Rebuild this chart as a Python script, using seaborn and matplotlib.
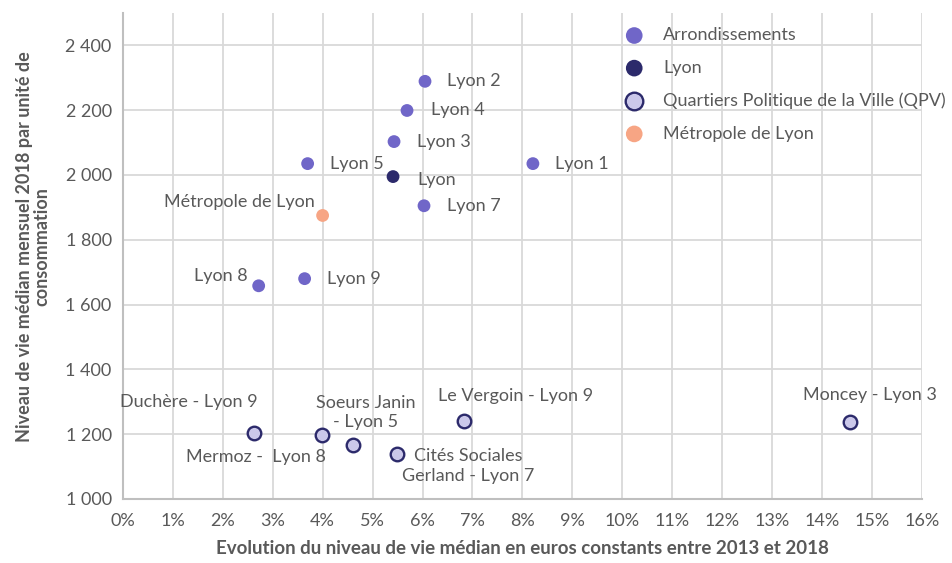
import pandas as pd
import seaborn as sns
import matplotlib.pyplot as plt
from matplotlib.ticker import FuncFormatter, MultipleLocator

# --- DATA ---
names = ["Lyon 1", "Lyon 2", "Lyon 3", "Lyon 4", "Lyon 5", "Lyon 7", "Lyon 8", "Lyon 9",
         "Lyon", "Métropole de Lyon",
         "Duchère - Lyon 9", "Mermoz -  Lyon 8", "Soeurs Janin\n- Lyon 5",
         "Cités Sociales\nGerland - Lyon 7", "Le Vergoin - Lyon 9", "Moncey - Lyon 3"]
evolution = [8.21, 6.05, 5.43, 5.69, 3.70, 6.03, 2.72, 3.64,
             5.41, 4.00,
             2.62, 3.98, 4.60, 5.49, 6.83, 14.56]
niveau = [2035, 2289, 2103, 2199, 2035, 1905, 1658, 1680,
          1995, 1875,
          1204, 1198, 1167, 1139, 1241, 1238]
groups = ["Arrondissements"] * 8 + ["Lyon", "Métropole de Lyon"] + \
         ["Quartiers Politique de la Ville (QPV)"] * 6

df = pd.DataFrame({"name": names, "evol": evolution, "niveau": niveau, "group": groups})

# --- STYLE ---
sns.set_theme(style="white")
plt.rcParams['font.family'] = ['Lato', 'DejaVu Sans']
grey = "#595959"
fs = 13

colors = {
    "Arrondissements": ("#7066C8", "none", 0),
    "Lyon": ("#2C2A6B", "none", 0),
    "Quartiers Politique de la Ville (QPV)": ("#CBC8EA", "#2C2A6B", 1.7),
    "Métropole de Lyon": ("#F7A584", "none", 0),
}
legend_order = ["Arrondissements", "Lyon", "Quartiers Politique de la Ville (QPV)", "Métropole de Lyon"]

fig = plt.figure(figsize=(9.52, 5.63), dpi=100)
ax = fig.add_axes([0.129, 0.1137, 0.8395, 0.8633])

for g in legend_order:
    face, edge, lw = colors[g]
    sub = df[df["group"] == g]
    sns.scatterplot(data=sub, x="evol", y="niveau", ax=ax, color=face,
                    edgecolor=edge, linewidth=lw, s=85 if lw == 0 else 95,
                    label=g, zorder=3)

# label offsets in pixels (dx, dy, ha)
offsets = {
    "Lyon 1": (22, 0, "left"), "Lyon 2": (22, 0, "left"), "Lyon 3": (23, 0, "left"),
    "Lyon 4": (24, 0, "left"), "Lyon 5": (22, 0, "left"), "Lyon 7": (23, 0, "left"),
    "Lyon 8": (-11, 10, "right"), "Lyon 9": (22, 0, "left"),
    "Lyon": (24, -3, "left"), "Métropole de Lyon": (-8, 13, "right"),
    "Duchère - Lyon 9": (-65, 31, "center"), "Mermoz -  Lyon 8": (-66, -22, "center"),
    "Soeurs Janin\n- Lyon 5": (13, 32, "center"),
    "Cités Sociales\nGerland - Lyon 7": (71, -12, "center"),
    "Le Vergoin - Lyon 9": (52, 25, "center"), "Moncey - Lyon 3": (20, 27, "center"),
}
for _, r in df.iterrows():
    dx, dy, ha = offsets[r["name"]]
    ax.annotate(r["name"], (r["evol"], r["niveau"]), xytext=(dx, dy),
                textcoords="offset pixels", ha=ha, va="center", fontsize=fs,
                color=grey, linespacing=1.25, zorder=4)

# --- AXES ---
ax.set_xlim(0, 16)
ax.set_ylim(1000, 2500)
ax.xaxis.set_major_locator(MultipleLocator(1))
ax.set_yticks(range(1000, 2401, 200))
ax.xaxis.set_major_formatter(FuncFormatter(lambda v, p: f"{int(round(v))}%"))
ax.yaxis.set_major_formatter(FuncFormatter(lambda v, p: f"{int(v):,}".replace(",", " ")))
ax.tick_params(axis="both", length=0, labelsize=fs, colors=grey)
ax.tick_params(axis="x", pad=10)
ax.tick_params(axis="y", pad=8)
ax.grid(True, color="#D9D9D9", linewidth=1.3, zorder=0)
ax.set_axisbelow(True)
for side in ["top", "right"]:
    ax.spines[side].set_visible(False)
for side in ["left", "bottom"]:
    ax.spines[side].set_color("#BFBFBF")
    ax.spines[side].set_linewidth(1.5)

ax.set_xlabel("Evolution du niveau de vie médian en euros constants entre 2013 et 2018",
              fontsize=13.5, fontweight="bold", color=grey, labelpad=8)
ax.set_ylabel("Niveau de vie médian mensuel 2018 par unité de\nconsommation",
              fontsize=13, fontweight="bold", color=grey, linespacing=1.0)
ax.yaxis.set_label_coords(-0.091, 0.52)

leg = ax.legend(loc="upper left", bbox_to_anchor=(0.597, 1.004), frameon=False,
                fontsize=fs, labelspacing=0.92, handletextpad=0.6, markerscale=1.3)
for t in leg.get_texts():
    t.set_color(grey)

plt.savefig("out.png", dpi=100)
